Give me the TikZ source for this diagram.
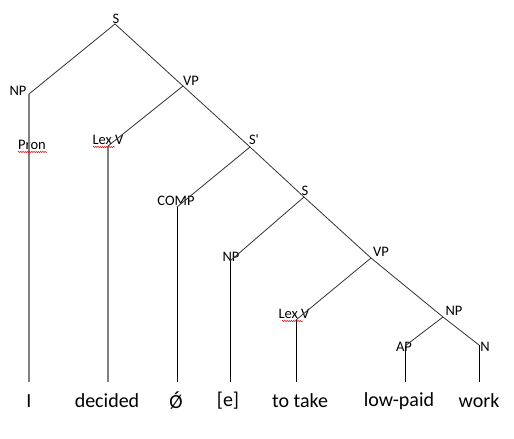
\documentclass[tikz,border=0pt]{standalone}
\usepackage{fontspec}
\setmainfont{Carlito}
\usetikzlibrary{decorations.pathmorphing}
\begin{document}
\begin{tikzpicture}[x=1pt,y=-1pt,
  lbl/.style={inner sep=0pt,font=\fontsize{14.5}{15}\selectfont},
  word/.style={inner sep=0pt,font=\fontsize{20}{22}\selectfont},
  branch/.style={draw=black!80,line width=0.8pt},
  greystem/.style={draw=black!50,line width=2pt},
  stem/.style={draw=black,line width=1pt},
  spell/.style={draw=red!85!black,line width=0.5pt,decorate,decoration={snake,segment length=2.2pt,amplitude=0.6pt}}]
\useasboundingbox[fill=white] (0,0) rectangle (514,439);
% junction points
\coordinate (jS) at (115,24);
\coordinate (jNP) at (29,94);
\coordinate (jVP) at (183,86);
\coordinate (jLexV) at (108,146);
\coordinate (jSbar) at (250,147);
\coordinate (jCOMP) at (177,207);
\coordinate (jS2) at (304,197);
\coordinate (jNP2) at (230,261);
\coordinate (jVP2) at (371,258);
\coordinate (jLexV2) at (296,320);
\coordinate (jNP3) at (443,317);
\coordinate (jAP) at (405,346);
\coordinate (jN) at (479,345);
% stem ends
\coordinate (eI) at (29,382);
\coordinate (eDecided) at (108,382);
\coordinate (eO) at (177,382);
\coordinate (eE) at (230,382);
\coordinate (eTake) at (296,382);
\coordinate (eLow) at (405,382);
\coordinate (eWork) at (479,382);
% labels
\node[lbl] (lS) at (116,19) {S};
\node[lbl] (lNP) at (18,91) {NP};
\node[lbl] (lVP) at (191,81) {VP};
\node[lbl] (lPron) at (32,145) {Pron};
\node[lbl] (lLexV) at (108,140) {Lex V};
\node[lbl] (lSbar) at (254,140) {S\textquotesingle};
\node[lbl] (lCOMP) at (176,201) {COMP};
\node[lbl] (lS2) at (305,191) {S};
\node[lbl] (lNP2) at (231,257) {NP};
\node[lbl] (lVP2) at (381,252) {VP};
\node[lbl] (lLexV2) at (294,314) {Lex V};
\node[lbl] (lNP3) at (454,311) {NP};
\node[lbl] (lAP) at (404,347) {AP};
\node[lbl] (lN) at (485,347) {N};
% words
\node[word] (wI) at (29,401) {I};
\node[word] (wDecided) at (107,401) {decided};
\node[word] (wO) at (176,401) {Ǿ};
\node[word] (wE) at (228,401) {[e]};
\node[word] (wTake) at (300,401) {to take};
\node[word] (wLow) at (399,401) {low-paid};
\node[word] (wWork) at (479,401) {work};
% branches
\draw[branch] (jNP) -- (jS) -- (jVP) -- (jSbar) -- (jS2) -- (jVP2) -- (jNP3) -- (jN);
\draw[branch] (jVP) -- (jLexV);
\draw[branch] (jSbar) -- (jCOMP);
\draw[branch] (jS2) -- (jNP2);
\draw[branch] (jVP2) -- (jLexV2);
\draw[branch] (jNP3) -- (jAP);
% stems
\draw[greystem] (jNP) -- (eI);
\draw[greystem] (jLexV) -- (eDecided);
\draw[stem] (jCOMP) -- (eO);
\draw[stem] (jNP2) -- (eE);
\draw[stem] (jLexV2) -- (eTake);
\draw[stem] (jAP) -- (eLow);
\draw[stem] (jN) -- (eWork);
% spell-check underlines
\coordinate (u1a) at (18,152); \coordinate (u1b) at (47,152);
\coordinate (u2a) at (93,147); \coordinate (u2b) at (115,147);
\coordinate (u3a) at (282,321); \coordinate (u3b) at (303,321);
\draw[spell] (u1a) -- (u1b);
\draw[spell] (u2a) -- (u2b);
\draw[spell] (u3a) -- (u3b);
\end{tikzpicture}
\end{document}
